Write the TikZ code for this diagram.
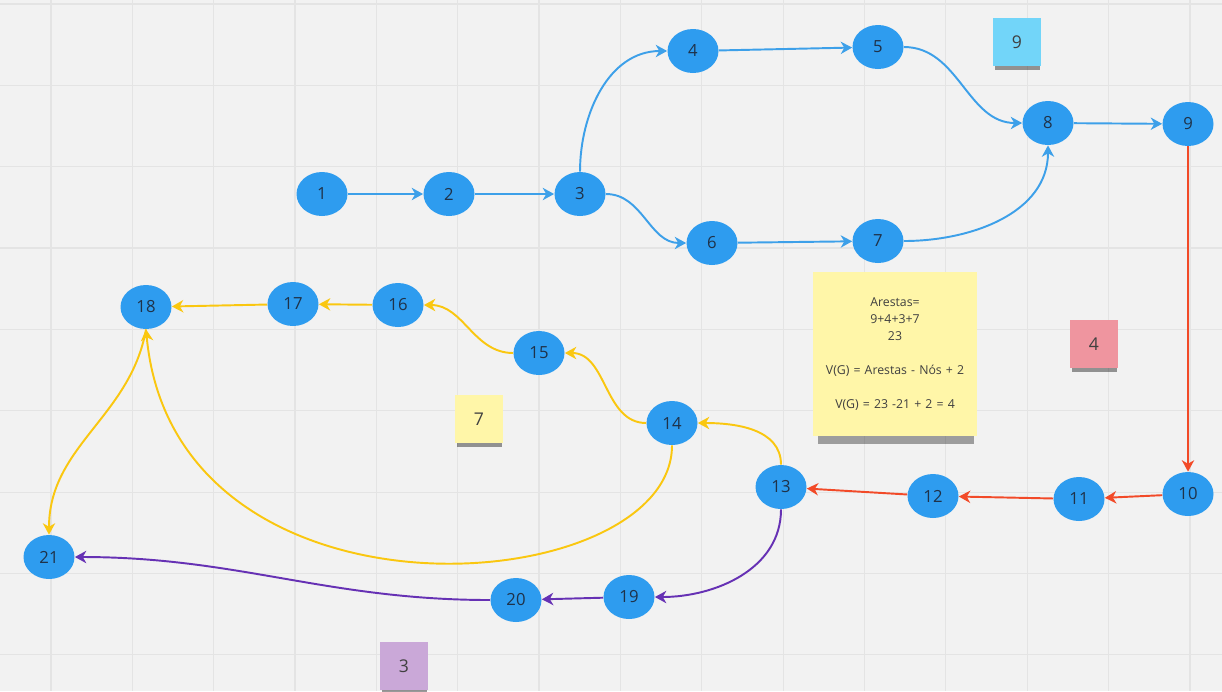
\documentclass[tikz,border=0pt]{standalone}
\usepackage{fontspec}
\setmainfont{Open Sans}
\usepackage{tikz}
\usetikzlibrary{arrows.meta,shapes.geometric,shadows}
\definecolor{board}{HTML}{F2F2F2}
\definecolor{gridgray}{HTML}{E4E4E4}
\definecolor{nodeblue}{HTML}{2E9CEF}
\definecolor{numtext}{HTML}{1F3249}
\definecolor{edgeblue}{HTML}{3DA0E9}
\definecolor{edgered}{HTML}{F24A28}
\definecolor{edgeyellow}{HTML}{FAC710}
\definecolor{edgepurple}{HTML}{6631B4}
\definecolor{notecyan}{HTML}{72D5F9}
\definecolor{notered}{HTML}{EF959F}
\definecolor{notepurple}{HTML}{CAA8D8}
\definecolor{noteyellow}{HTML}{FFF6A8}

\begin{document}
\begin{tikzpicture}[
 x=0.02cm,y=-0.02cm,
 vertex/.style={ellipse,fill=nodeblue,minimum width=1.02cm,minimum height=0.88cm,inner sep=0pt,text=numtext,font=\fontsize{9.5}{11}\selectfont},
 link/.style={line width=1.1pt,-{Stealth[length=6.5pt,width=7pt,inset=2pt]}},
 sticky/.style={fill=#1,minimum width=0.96cm,minimum height=0.96cm,inner sep=0pt,text=black!75,font=\fontsize{10}{12}\selectfont,
   drop shadow={shadow xshift=0.5pt,shadow yshift=-3pt,shadow scale=0.94,opacity=.4,fill=black}},
]
\useasboundingbox (0,0) rectangle (1222,691);
\fill[board] (0,0) rectangle (1222,691);
\foreach \gx in {0,...,14}
  \draw[gridgray,line width=0.7pt] ({51+81.35*\gx},0) -- ({51+81.35*\gx},691);
\foreach \gy in {0,...,8}
  \draw[gridgray,line width=0.7pt] (0,{4+81.35*\gy}) -- (1222,{4+81.35*\gy});

\node[sticky=notecyan] (c9) at (1017,42) {9};
\node[sticky=notered] (c4) at (1094,344) {4};
\node[sticky=noteyellow] (c7) at (479,419) {7};
\node[sticky=notepurple] (c3) at (404,666) {3};
\node[fill=noteyellow,minimum width=3.28cm,minimum height=3.3cm,inner sep=0pt,text width=3.1cm,align=center,
  text=black!75,font=\fontsize{7}{9.6}\selectfont,
  drop shadow={shadow xshift=0.5pt,shadow yshift=-7pt,shadow scale=0.95,opacity=.35,fill=black}] (calc) at (895,354)
  {Arestas=\\9+4+3+7\\23\\[9.6pt]V(G) = Arestas - Nós + 2\\[9.6pt]V(G) = 23 -21 + 2 = 4};

\node[vertex] (n1) at (322,194) {1};
\node[vertex] (n2) at (449,194) {2};
\node[vertex] (n3) at (580,194) {3};
\node[vertex] (n4) at (693,51) {4};
\node[vertex] (n5) at (878,47) {5};
\node[vertex] (n6) at (712,243) {6};
\node[vertex] (n7) at (878,241) {7};
\node[vertex] (n8) at (1048,123) {8};
\node[vertex] (n9) at (1188,124) {9};
\node[vertex] (n10) at (1188,494) {10};
\node[vertex] (n11) at (1079,499) {11};
\node[vertex] (n12) at (933,496) {12};
\node[vertex] (n13) at (781,487) {13};
\node[vertex] (n14) at (672,423) {14};
\node[vertex] (n15) at (539,353) {15};
\node[vertex] (n16) at (398,305) {16};
\node[vertex] (n17) at (293,304) {17};
\node[vertex] (n18) at (146,307) {18};
\node[vertex] (n19) at (629,597) {19};
\node[vertex] (n20) at (516,600) {20};
\node[vertex] (n21) at (49,557) {21};

\draw[link,edgeblue] (n1) -- (n2);
\draw[link,edgeblue] (n2) -- (n3);
\draw[link,edgeblue] (n3.north) to[out=90,in=180] (n4.west);
\draw[link,edgeblue] (n3.east) to[out=0,in=180] (n6.west);
\draw[link,edgeblue] (n4) -- (n5);
\draw[link,edgeblue] (n6) -- (n7);
\draw[link,edgeblue] (n5.east) to[out=0,in=180] (n8.west);
\draw[link,edgeblue] (n7.east) to[out=0,in=-90] (n8.south);
\draw[link,edgeblue] (n8) -- (n9);

\draw[link,edgered] (n9) -- (n10);
\draw[link,edgered] (n10) -- (n11);
\draw[link,edgered] (n11) -- (n12);
\draw[link,edgered] (n12) -- (n13);

\draw[link,edgeyellow] (n13.north) to[out=90,in=0] (n14.east);
\draw[link,edgeyellow] (n14.west) to[out=180,in=0] (n15.east);
\draw[link,edgeyellow] (n15.west) to[out=180,in=0] (n16.east);
\draw[link,edgeyellow] (n16) -- (n17);
\draw[link,edgeyellow] (n17) -- (n18);
\draw[link,edgeyellow] (n14.south) .. controls (672,600) and (175,640) .. (n18.south);
\draw[link,edgeyellow] (n18.south) to[out=-100,in=90] (n21.north);

\draw[link,edgepurple] (n13.south) to[out=-90,in=0] (n19.east);
\draw[link,edgepurple] (n19) -- (n20);
\draw[link,edgepurple] (n20.west) to[out=180,in=0] (n21.east);
\end{tikzpicture}
\end{document}
